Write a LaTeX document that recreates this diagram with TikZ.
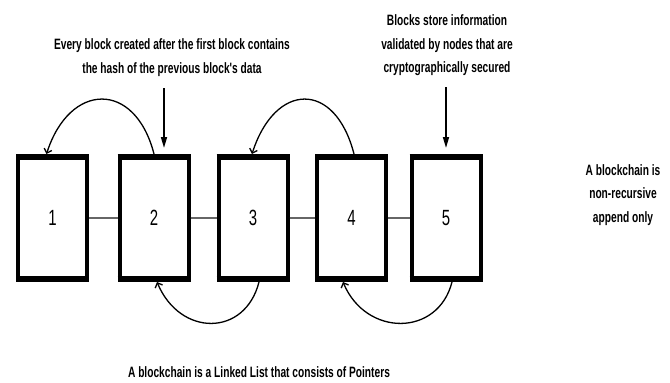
\documentclass[tikz,border=0pt]{standalone}
\usepackage{fontspec}
\setmainfont{Liberation Sans}
\newfontfamily\lblfont{Liberation Sans}[FakeStretch=0.68]
\usetikzlibrary{arrows.meta}
\begin{document}
\begin{tikzpicture}[x=1pt,y=-1pt,
  blockbox/.style={draw=black,line width=4pt,fill=white,minimum width=69pt,minimum height=124pt,inner sep=0pt,font=\lblfont\fontsize{22}{22}\selectfont},
  thickedge/.style={line width=6pt,line cap=butt},
  link/.style={draw=black!60,line width=2pt},
  pointer/.style={draw=black,line width=1.3pt,-{Straight Barb[length=4pt,width=8pt]}},
  downarrow/.style={draw=black,line width=1.6pt,-{Triangle[length=11pt,width=6pt]}},
  label/.style={align=center,inner sep=0pt,font=\lblfont\bfseries\fontsize{15}{23.5}\selectfont}]
\useasboundingbox[fill=white] (0,0) rectangle (670,383);
% blocks
\node[blockbox] (b1) at (52.5,218) {1};
\node[blockbox] (b2) at (154,218) {2};
\node[blockbox] (b3) at (253,218) {3};
\node[blockbox] (b4) at (351.5,218) {4};
\node[blockbox] (b5) at (446,218) {5};
\foreach \i in {1,...,5}{
  \draw[thickedge] ([yshift=-3pt]b\i.north west) -- ([yshift=-3pt]b\i.north east);
  \draw[thickedge] ([yshift=3pt]b\i.south west) -- ([yshift=3pt]b\i.south east);
}
% links
\draw[link] (b1.east) -- (b2.west);
\draw[link] (b2.east) -- (b3.west);
\draw[link] (b3.east) -- (b4.west);
\draw[link] (b4.east) -- (b5.west);
% pointers
\draw[pointer] (b2.north) .. controls +(-19,-74) and +(23,-72) .. ([xshift=-6pt]b1.north);
\draw[pointer] ([xshift=2.5pt]b4.north) .. controls +(-19,-74) and +(23,-72) .. ([xshift=-1pt]b3.north);
\draw[pointer] ([xshift=6pt]b3.south) .. controls +(-14,55) and +(23,55) .. ([xshift=3pt]b2.south);
\draw[pointer] ([xshift=6pt]b5.south) .. controls +(-14,55) and +(23,55) .. ([xshift=-8.5pt]b4.south);
% labels
\node[label] (t1) at (172,57.5) {Every block created after the first block contains\\the hash of the previous block's data};
\node[label] (t2) at (447,45.5) {Blocks store information\\validated by nodes that are\\cryptographically secured};
\node[label] (t3) at (623,195) {A blockchain is\\non-recursive\\append only};
\node[label] (t4) at (259,372) {A blockchain is a Linked List that consists of Pointers};
\coordinate (a1s) at (164,88);
\coordinate (a1e) at (164,148);
\coordinate (a2s) at (446,87);
\coordinate (a2e) at (446,148);
\draw[downarrow] (a1s) -- (a1e);
\draw[downarrow] (a2s) -- (a2e);
\end{tikzpicture}
\end{document}
